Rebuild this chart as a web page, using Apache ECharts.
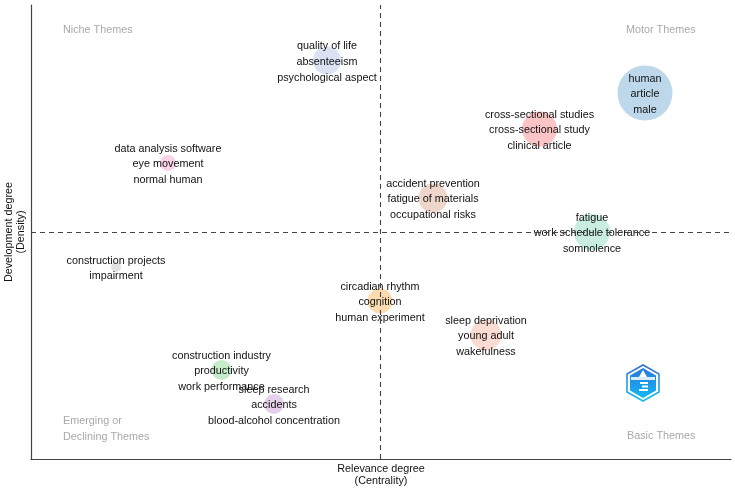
<!DOCTYPE html>
<html><head><meta charset="utf-8">
<style>html,body{margin:0;padding:0;background:#fff}#c{width:735px;height:492px}</style>
<script src="https://cdn.jsdelivr.net/npm/echarts@6/dist/echarts.min.js"></script>
</head><body><div id="c"></div>
<script>
const themes = [
  ['human','article','male'],
  ['cross-sectional studies','cross-sectional study','clinical article'],
  ['fatigue','work schedule tolerance','somnolence'],
  ['accident prevention','fatigue of materials','occupational risks'],
  ['quality of life','absenteeism','psychological aspect'],
  ['data analysis software','eye movement','normal human'],
  ['construction projects','impairment'],
  ['circadian rhythm','cognition','human experiment'],
  ['sleep deprivation','young adult','wakefulness'],
  ['construction industry','productivity','work performance'],
  ['sleep research','accidents','blood-alcohol concentration']
];
const centrality = [61.4,50.85,56.1,40.2,29.6,13.7,8.5,34.9,45.5,19.05,24.3];
const density = [36.6,33,22.7,26.1,39.85,29.6,19.2,15.8,12.4,8.9,5.5];
const bubbleSize = [55,35,36,29,28,16,10,25,31,20,20];
const colors = ['#bcd8ea','#fbc4c6','#c9ede0','#eed6cb','#dbe3f2','#f9d4e8','#e2e2e2','#fbdcb0','#fbdcd2','#c5ebc9','#e6cfea'];
const medianX = 34.95, medianY = 22.7;
const quadrantLabels = ['Niche Themes','Motor Themes','Emerging or\nDeclining Themes','Basic Themes'];
const xName = 'Relevance degree\n(Centrality)', yName = 'Development degree\n(Density)';

const font = 'Liberation Sans, Arial, sans-serif';
const gray = '#a9a9a9';
const chart = echarts.init(document.getElementById('c'), null, {renderer:'canvas'});
const axisLine = {show:true, onZero:false, lineStyle:{color:'#444', width:1.2}};
const grad = (a,b)=>new echarts.graphic.LinearGradient(0,0,0,1,[{offset:0,color:a},{offset:1,color:b}]);
chart.setOption({
  animation:false,
  backgroundColor:'#fff',
  grid:{left:31,top:5,width:700,height:454,outerBoundsMode:'none'},
  xAxis:{type:'value',min:0,max:70,axisLine,axisTick:{show:false},axisLabel:{show:false},splitLine:{show:false},
    name:xName,nameLocation:'middle',nameGap:4,nameTextStyle:{fontFamily:font,fontSize:10.8,color:'#111',lineHeight:12,verticalAlign:'top'}},
  yAxis:{type:'value',min:0,max:45.4,axisLine,axisTick:{show:false},axisLabel:{show:false},splitLine:{show:false},
    name:yName,nameLocation:'middle',nameGap:16,nameTextStyle:{fontFamily:font,fontSize:10.8,color:'#111',lineHeight:12,verticalAlign:'middle'}},
  series:[{
    type:'scatter',
    data:themes.map((t,i)=>({value:[centrality[i],density[i]],symbolSize:bubbleSize[i],itemStyle:{color:colors[i],opacity:1},
      label:{formatter:t.join('\n')}})),
    label:{show:true,position:'inside',color:'#111',fontFamily:font,fontSize:10.8,lineHeight:15.7,align:'center',verticalAlign:'middle'},
    labelLayout:{hideOverlap:false,dy:1.5},
    emphasis:{disabled:true},
    markLine:{silent:true,symbol:'none',label:{show:false},
      lineStyle:{color:'#444',type:[5,4],width:1.1},
      data:[{xAxis:medianX},{yAxis:medianY}]},
    z:3
  }],
  graphic:[
    {type:'text',left:63,top:25,style:{text:quadrantLabels[0],font:'10.8px '+font,fill:gray}},
    {type:'text',left:626,top:25,style:{text:quadrantLabels[1],font:'10.8px '+font,fill:gray}},
    {type:'text',left:63,top:413,style:{text:quadrantLabels[2],font:'10.8px '+font,fill:gray,lineHeight:16}},
    {type:'text',left:627,top:431,style:{text:quadrantLabels[3],font:'10.8px '+font,fill:gray}},
    {type:'polygon',shape:{points:[[643,365],[659,374],[659,392],[643,401],[627,392],[627,374]]},
      style:{fill:'#fff',stroke:grad('#3a6fd0','#12c0f2'),lineWidth:1.6}},
    {type:'polygon',shape:{points:[[643,368],[656,375.5],[656,390.5],[643,398],[630,390.5],[630,375.5]]},
      style:{fill:grad('#2a78dc','#12b8f2')}},
    {type:'rect',shape:{x:631,y:377,width:24,height:3},style:{fill:'#d8eefc'}},
    {type:'polygon',shape:{points:[[643,370],[647,377],[639,377]]},style:{fill:'#fff'}},
    {type:'rect',shape:{x:640,y:382,width:8,height:2},style:{fill:'#fff'}},
    {type:'rect',shape:{x:642,y:385.5,width:6,height:2},style:{fill:'#fff'}},
    {type:'rect',shape:{x:639,y:389,width:9,height:2},style:{fill:'#fff'}}
  ]
});
</script></body></html>
